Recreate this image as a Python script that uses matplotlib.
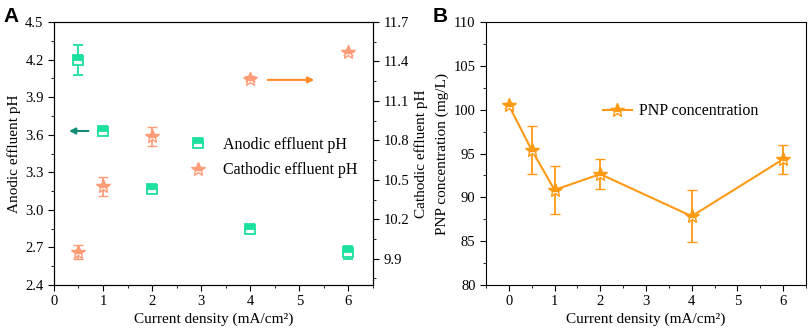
import numpy as np
import matplotlib
matplotlib.use("Agg")
import matplotlib.pyplot as plt
from matplotlib.ticker import MultipleLocator

# panel A data
density_a = [0.5, 1, 2, 4, 6]
anodic_ph = [4.20, 3.63, 3.17, 2.85, 2.66]
anodic_err = [0.12, 0.03, 0.03, 0.02, 0.05]
cathodic_ph = [9.95, 10.45, 10.83, 11.27, 11.47]
cathodic_err = [0.055, 0.07, 0.075, 0.02, 0.02]

# panel B data
density_b = [0, 0.5, 1, 2, 4, 6]
pnp_conc = [100.5, 95.4, 90.85, 92.65, 87.85, 94.35]
pnp_err = [0.3, 2.7, 2.75, 1.75, 3.0, 1.65]

green = "#1BE09E"
salmon = "#FF9C78"
orange = "#FF9A14"

plt.rcParams["font.family"] = "Liberation Serif"
plt.rcParams["font.size"] = 10.5
plt.rcParams["xtick.major.size"] = 4
plt.rcParams["ytick.major.size"] = 4
plt.rcParams["xtick.minor.size"] = 2.5
plt.rcParams["ytick.minor.size"] = 2.5
plt.rcParams["xtick.minor.visible"] = True
plt.rcParams["ytick.minor.visible"] = True

fig = plt.figure(figsize=(8.09, 3.34), dpi=100)

# ---- panel A ----
ax = fig.add_axes([0.0667, 0.1467, 0.3943, 0.7873])
ax2 = ax.twinx()

an = ax.errorbar(density_a, anodic_ph, yerr=anodic_err, fmt="s", color=green,
                 markersize=7, fillstyle="top", markerfacecoloralt="white",
                 capsize=3.5, elinewidth=1.3, capthick=1.3, mew=1.3, zorder=3)
ca = ax2.errorbar(density_a, cathodic_ph, yerr=cathodic_err, fmt="*",
                  color=salmon, markersize=10, fillstyle="top",
                  markerfacecoloralt="white", capsize=3.5, elinewidth=1.3,
                  capthick=1.3, mew=1.0, zorder=3)

ax.set_xlim(0, 6.5)
ax.set_ylim(2.4, 4.5)
ax.set_yticks(np.arange(2.4, 4.51, 0.3))
ax.yaxis.set_minor_locator(MultipleLocator(0.15))
ax.xaxis.set_major_locator(MultipleLocator(1))
ax.xaxis.set_minor_locator(MultipleLocator(0.5))
ax.set_yticklabels([f"{v:.1f}" for v in np.arange(2.4, 4.51, 0.3)])
ax2.set_ylim(9.7, 11.7)
ax2.set_yticks(np.arange(9.9, 11.71, 0.3))
ax2.set_yticklabels([f"{v:.1f}" for v in np.arange(9.9, 11.71, 0.3)])
ax2.yaxis.set_minor_locator(MultipleLocator(0.15))

ax.set_xlabel("Current density (mA/cm²)", fontsize=11, labelpad=3)
ax.set_ylabel("Anodic effluent pH", fontsize=11, labelpad=3)
ax2.set_ylabel("Cathodic effluent pH", fontsize=11, labelpad=4)

ax.annotate("", xy=(0.25, 3.63), xytext=(0.76, 3.63),
            arrowprops=dict(arrowstyle="-|>", color="#128C74", lw=1.5,
                            mutation_scale=9))
ax2.annotate("", xy=(5.36, 11.26), xytext=(4.3, 11.26),
             arrowprops=dict(arrowstyle="-|>", color="#FF8A2A", lw=1.5,
                             mutation_scale=9))

ax.legend([an[0], ca[0]], ["Anodic effluent pH", "Cathodic effluent pH"],
          loc="center left", bbox_to_anchor=(0.355, 0.485), frameon=False,
          fontsize=11.5, handletextpad=0.6, labelspacing=0.6)

fig.text(0.004, 0.935, "A", fontsize=15, fontweight="bold",
         family="Liberation Sans")

# ---- panel B ----
bx = fig.add_axes([0.6007, 0.1467, 0.3956, 0.7873])
pn = bx.errorbar(density_b, pnp_conc, yerr=pnp_err, fmt="-*", color=orange,
                 markersize=10, fillstyle="top", markerfacecoloralt="white",
                 capsize=3.5, elinewidth=1.3, capthick=1.3, lw=1.5, mew=1.0)
bx.set_xlim(-0.5, 6.5)
bx.set_ylim(80, 110)
bx.xaxis.set_major_locator(MultipleLocator(1))
bx.xaxis.set_minor_locator(MultipleLocator(0.5))
bx.yaxis.set_major_locator(MultipleLocator(5))
bx.yaxis.set_minor_locator(MultipleLocator(2.5))
bx.set_xlabel("Current density (mA/cm²)", fontsize=11, labelpad=3)
bx.set_ylabel("PNP concentration (mg/L)", fontsize=11, labelpad=3)
bx.legend([pn[0]], ["PNP concentration"], loc="center left",
          bbox_to_anchor=(0.32, 0.66), frameon=False,
          fontsize=11.5, handletextpad=0.5, handlelength=1.8)

fig.text(0.535, 0.935, "B", fontsize=15, fontweight="bold",
         family="Liberation Sans")

fig.savefig("out.png", dpi=100)
